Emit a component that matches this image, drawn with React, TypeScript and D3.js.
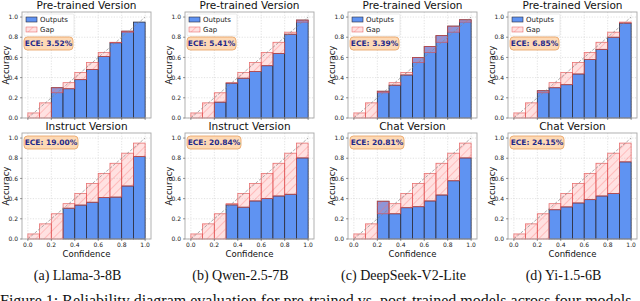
import React from 'react';
import * as d3 from 'd3';

// bin centres of the 10 confidence bins
const binCenters = [0.05, 0.15, 0.25, 0.35, 0.45, 0.55, 0.65, 0.75, 0.85, 0.95];
const tickValues = [0, 0.2, 0.4, 0.6, 0.8, 1.0];

const models = ['Llama-3-8B', 'Qwen-2.5-7B', 'DeepSeek-V2-Lite', 'Yi-1.5-6B'];
const letters = ['a', 'b', 'c', 'd'];
const postTitles = ['Instruct Version', 'Instruct Version', 'Chat Version', 'Chat Version'];

// accuracy per bin (0 = empty bin)
const llamaPre = [0, 0, 0.3, 0.29, 0.38, 0.48, 0.61, 0.745, 0.86, 0.95];
const llamaPost = [0, 0, 0, 0.305, 0.336, 0.364, 0.41, 0.415, 0.525, 0.816];
const qwenPre = [0, 0, 0.157, 0.345, 0.394, 0.46, 0.518, 0.64, 0.83, 0.97];
const qwenPost = [0, 0, 0, 0.338, 0.315, 0.377, 0.4, 0.426, 0.443, 0.803];
const deepseekPre = [0, 0, 0.265, 0.325, 0.426, 0.6, 0.708, 0.816, 0.91, 0.973];
const deepseekPost = [0, 0, 0.374, 0.25, 0.31, 0.32, 0.377, 0.436, 0.577, 0.803];
const yiPre = [0, 0, 0.27, 0.3, 0.33, 0.436, 0.58, 0.68, 0.8, 0.94];
const yiPost = [0, 0, 0, 0.29, 0.318, 0.357, 0.39, 0.426, 0.45, 0.764];

const preAcc = [llamaPre, qwenPre, deepseekPre, yiPre];
const postAcc = [llamaPost, qwenPost, deepseekPost, yiPost];
const preEce = ['3.52%', '5.41%', '3.39%', '6.85%'];
const postEce = ['19.00%', '20.84%', '20.81%', '24.15%'];

const BLUE = '#5f93f2';
const SANS = 'DejaVu Sans, sans-serif';
const SERIF = 'Liberation Serif, Times New Roman, serif';

const colLeft = [22, 185, 348, 508];
const plotW = 129;
const plotH = 106;
const rowTop = [12, 133];

type PanelProps = {
  id: string;
  left: number;
  top: number;
  acc: number[];
  ece: string;
  title: string;
  showLegend: boolean;
  showXLabels: boolean;
};

const Panel = ({ id, left, top, acc, ece, title, showLegend, showXLabels }: PanelProps) => {
  const x = d3.scaleLinear().domain([-0.05, 1.05]).range([0, plotW]);
  const y = d3.scaleLinear().domain([0, 1.05]).range([plotH, 0]);
  const bw = x(0.1) - x(0);
  const eceW = ece.length > 5 ? 54 : 49;

  return (
    <g transform={`translate(${left},${top})`}>
      <text x={plotW / 2} y={-3} textAnchor="middle" fontFamily={SANS} fontSize={10.5} fill="#111">
        {title}
      </text>
      <rect x={0} y={0} width={plotW} height={plotH} fill="#fff" />
      {/* grid */}
      {tickValues.map((t) => (
        <g key={'g' + t}>
          <line x1={x(t)} x2={x(t)} y1={0} y2={plotH} stroke="#cfcfcf" strokeWidth={0.6} strokeDasharray="1.2,1.5" />
          <line x1={0} x2={plotW} y1={y(t)} y2={y(t)} stroke="#cfcfcf" strokeWidth={0.6} strokeDasharray="1.2,1.5" />
        </g>
      ))}
      {/* outputs */}
      {binCenters.map((c, i) =>
        acc[i] > 0 ? (
          <rect
            key={'o' + i}
            x={x(c) - bw / 2}
            y={y(acc[i])}
            width={bw}
            height={y(0) - y(acc[i])}
            fill={BLUE}
            stroke="#2b2b3a"
            strokeWidth={0.8}
          />
        ) : null
      )}
      {/* gap */}
      {binCenters.map((c, i) => {
        const lo = Math.min(acc[i], c);
        const hi = Math.max(acc[i], c);
        return (
          <g key={'gp' + i}>
            <rect x={x(c) - bw / 2} y={y(hi)} width={bw} height={y(lo) - y(hi)} fill="#ff9a9a" fillOpacity={0.3} />
            <rect
              x={x(c) - bw / 2}
              y={y(hi)}
              width={bw}
              height={y(lo) - y(hi)}
              fill={`url(#hatch-${id})`}
              stroke="#e04848"
              strokeOpacity={0.75}
              strokeWidth={0.8}
            />
          </g>
        );
      })}
      {/* perfect calibration */}
      <line x1={x(0)} y1={y(0)} x2={x(1)} y2={y(1)} stroke="#888" strokeWidth={0.7} strokeDasharray="3,1.5" />
      {/* frame */}
      <rect x={0} y={0} width={plotW} height={plotH} fill="none" stroke="#a8a8a8" strokeWidth={0.9} />
      {/* y ticks */}
      {tickValues.map((t) => (
        <g key={'yt' + t}>
          <line x1={-2} x2={0} y1={y(t)} y2={y(t)} stroke="#555" strokeWidth={0.6} />
          <text x={-4} y={y(t)} dy="0.35em" textAnchor="end" fontFamily={SANS} fontSize={6} fill="#222">
            {t.toFixed(1)}
          </text>
        </g>
      ))}
      {/* x ticks */}
      {tickValues.map((t) => (
        <g key={'xt' + t}>
          <line x1={x(t)} x2={x(t)} y1={plotH} y2={plotH + 2} stroke="#555" strokeWidth={0.6} />
          {showXLabels ? (
            <text x={x(t)} y={plotH + 8} textAnchor="middle" fontFamily={SANS} fontSize={6} fill="#222">
              {t.toFixed(1)}
            </text>
          ) : null}
        </g>
      ))}
      {showXLabels ? (
        <text x={plotW / 2} y={plotH + 18} textAnchor="middle" fontFamily={SANS} fontSize={8.5} fill="#111">
          Confidence
        </text>
      ) : null}
      <text
        transform={`translate(${-13},${plotH / 2}) rotate(-90)`}
        textAnchor="middle"
        fontFamily={SANS}
        fontSize={8.5}
        fill="#111"
      >
        Accuracy
      </text>
      {showLegend ? (
        <g>
          <rect x={2} y={2} width={50} height={22} rx={1.5} fill="#fff" fillOpacity={0.8} stroke="#ddd" strokeWidth={0.6} />
          <rect x={4} y={5} width={11} height={5} fill={BLUE} stroke="#2b2b3a" strokeWidth={0.6} />
          <text x={18} y={7.5} dy="0.35em" fontFamily={SANS} fontSize={7} fill="#222">
            Outputs
          </text>
          <rect x={4} y={15} width={11} height={5} fill="#ff9a9a" fillOpacity={0.3} />
          <rect x={4} y={15} width={11} height={5} fill={`url(#hatch-${id})`} stroke="#e04848" strokeOpacity={0.75} strokeWidth={0.6} />
          <text x={18} y={17.5} dy="0.35em" fontFamily={SANS} fontSize={7} fill="#222">
            Gap
          </text>
        </g>
      ) : null}
      <g transform={`translate(2,${showLegend ? 25 : 3})`}>
        <rect x={0} y={0} width={eceW} height={13} rx={3.5} fill="#fdd9b5" stroke="#e8a05e" strokeWidth={0.8} />
        <text
          x={eceW / 2}
          y={6.8}
          dy="0.35em"
          textAnchor="middle"
          fontFamily={SANS}
          fontSize={7.5}
          fontWeight="bold"
          fill="#1f2a8a"
        >
          {`ECE: ${ece}`}
        </text>
      </g>
    </g>
  );
};

export default function App() {
  return (
    <svg width={640} height={301} style={{ position: 'absolute', left: 0, top: 0, background: '#fff' }}>
      <defs>
        {letters.flatMap((l) =>
          ['pre', 'post'].map((k) => (
            <pattern
              key={l + k}
              id={`hatch-${l}${k}`}
              patternUnits="userSpaceOnUse"
              width={6}
              height={6}
              patternTransform="rotate(45)"
            >
              <line x1={0} y1={0} x2={0} y2={6} stroke="#ff6b6b" strokeWidth={0.8} strokeOpacity={0.8} />
            </pattern>
          ))
        )}
      </defs>
      {models.map((m, i) => (
        <g key={m}>
          <Panel
            id={`${letters[i]}pre`}
            left={colLeft[i]}
            top={rowTop[0]}
            acc={preAcc[i]}
            ece={preEce[i]}
            title="Pre-trained Version"
            showLegend={true}
            showXLabels={false}
          />
          <Panel
            id={`${letters[i]}post`}
            left={colLeft[i]}
            top={rowTop[1]}
            acc={postAcc[i]}
            ece={postEce[i]}
            title={postTitles[i]}
            showLegend={false}
            showXLabels={true}
          />
          <text x={colLeft[i] + plotW / 2 - 9} y={280} textAnchor="middle" fontFamily={SERIF} fontSize={14} fill="#111">
            {`(${letters[i]}) ${m}`}
          </text>
        </g>
      ))}
      <text x={0} y={306} fontFamily={SERIF} fontSize={16} fill="#111">
        Figure 1: Reliability diagram evaluation for pre-trained vs. post-trained models across four models.
      </text>
    </svg>
  );
}
